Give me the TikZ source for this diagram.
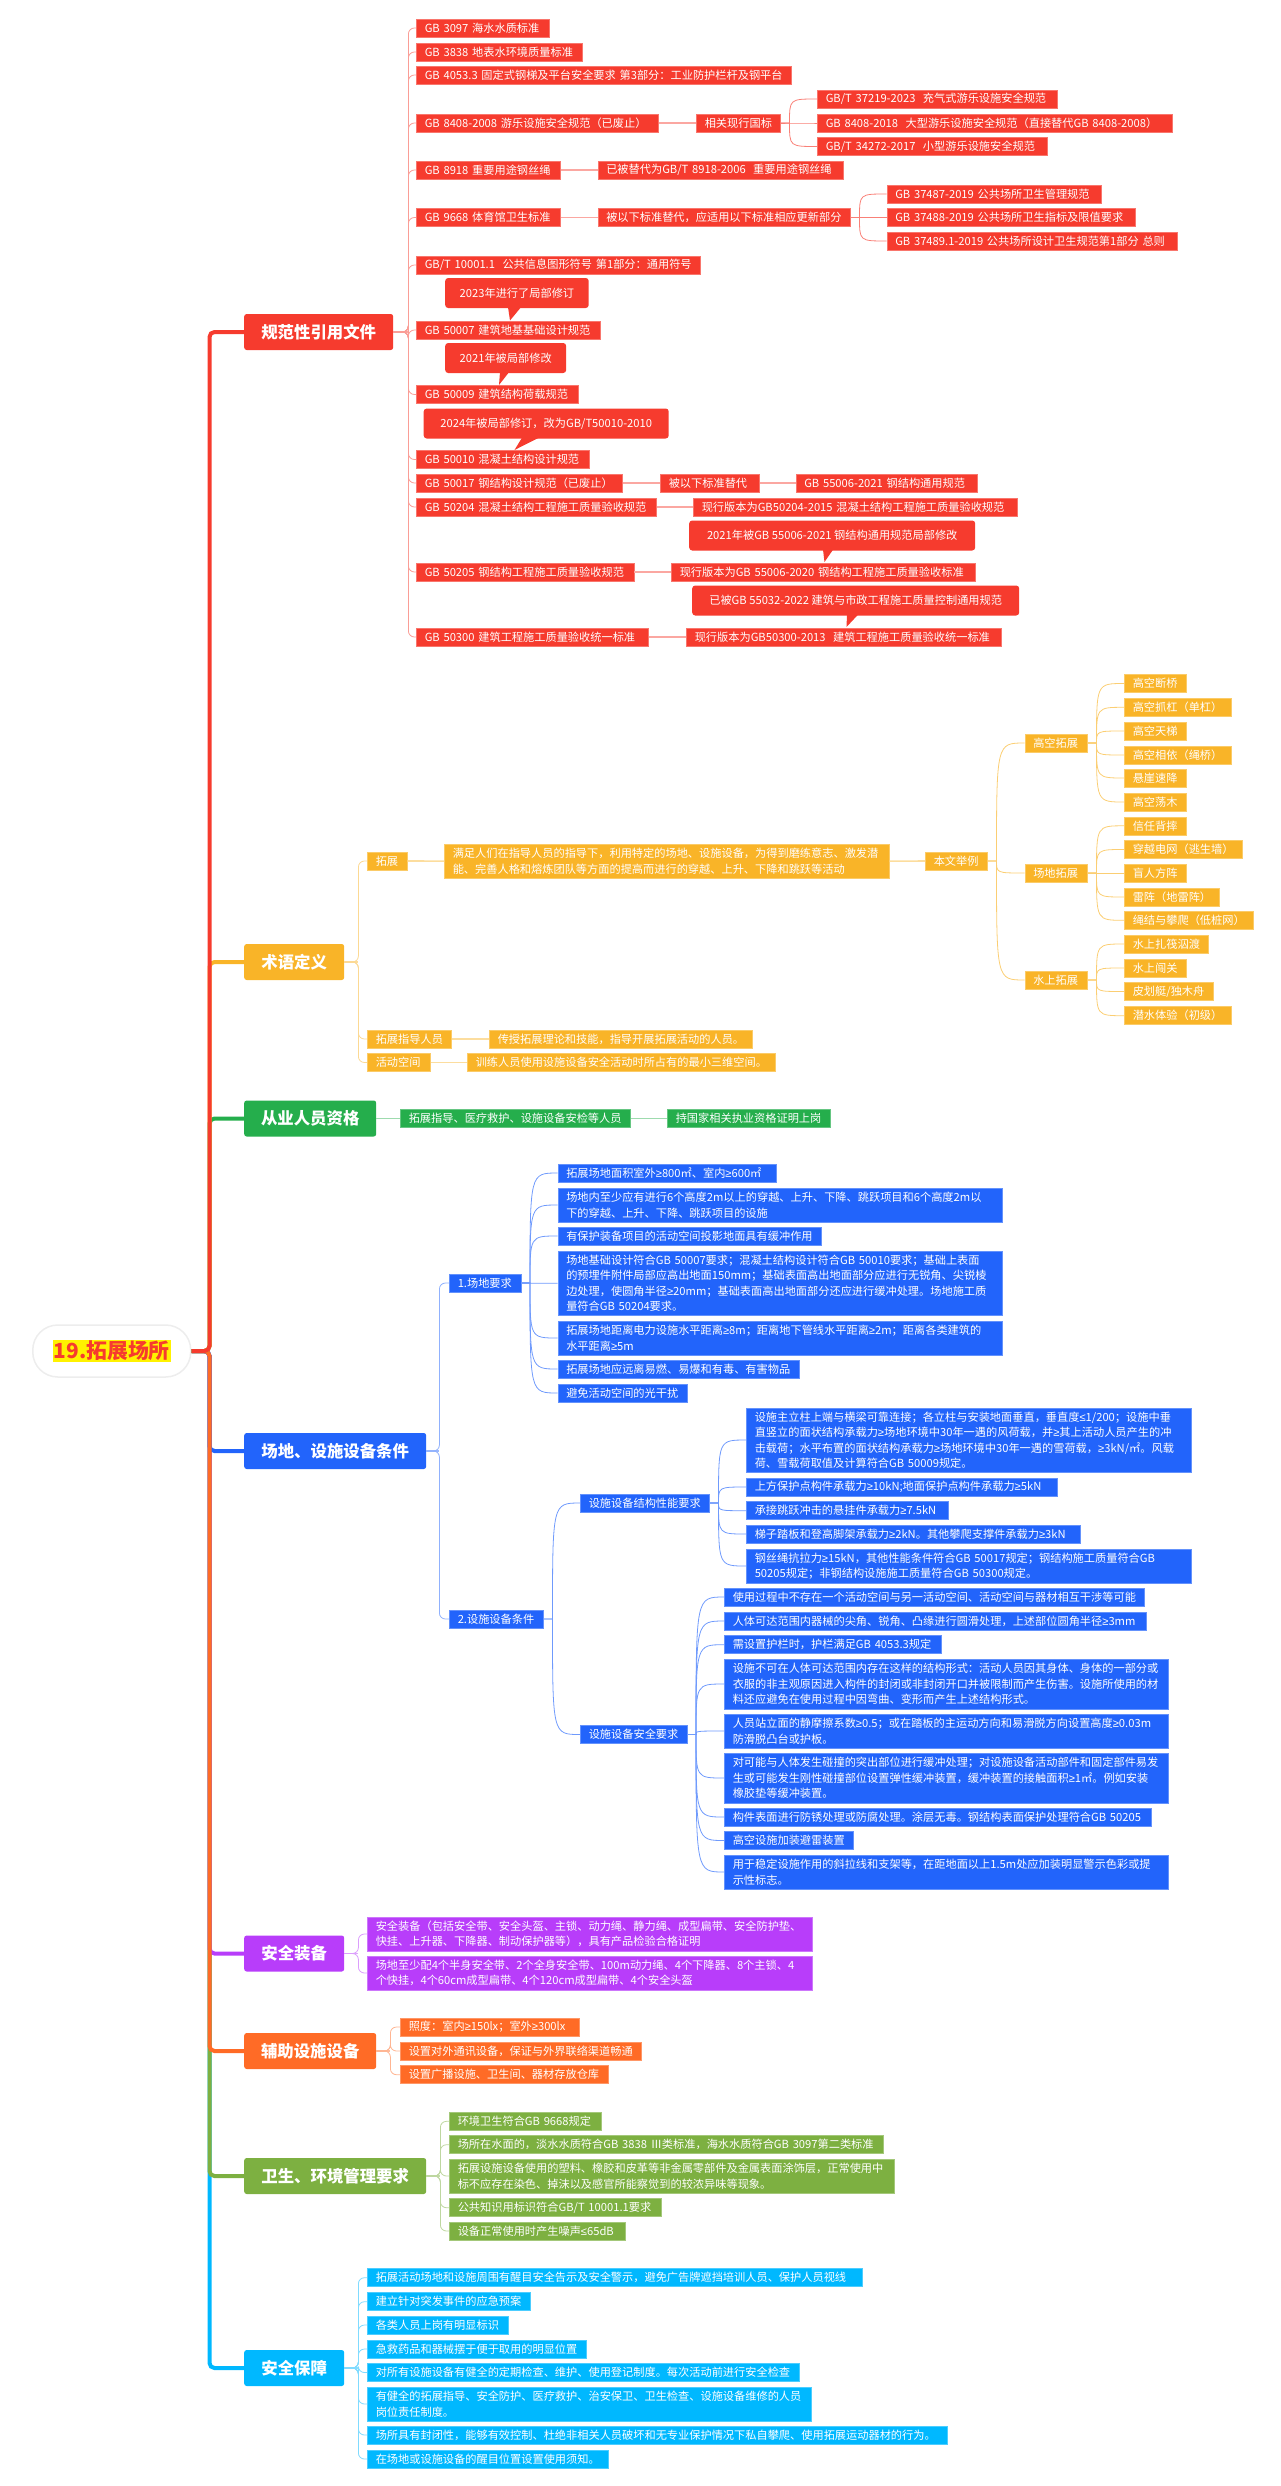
\documentclass[tikz,border=0pt]{standalone}
\usepackage{fontspec}
\usepackage{newunicodechar}
\setmainfont{Noto Sans CJK SC}
\newfontfamily\narrowfont{Liberation Sans}
\newunicodechar{≥}{{\narrowfont\char"2265 }}
\newunicodechar{≤}{{\narrowfont\char"2264 }}
\definecolor{rulered}{HTML}{F63B2E}
\definecolor{termyellow}{HTML}{F9B428}
\definecolor{staffgreen}{HTML}{25AE4C}
\definecolor{siteblue}{HTML}{2264FB}
\definecolor{gearpurple}{HTML}{B83DFA}
\definecolor{auxorange}{HTML}{FF6B26}
\definecolor{healthgreen}{HTML}{7DB041}
\definecolor{safecyan}{HTML}{00B8FF}
\newcommand{\leaffont}{\fontsize{11.2}{15.5}\selectfont}
\begin{document}
\begin{tikzpicture}[x=1pt,y=-1pt,
  leaf/.style={anchor=west, inner xsep=8.5pt, inner ysep=0pt, minimum height=18, align=left, text=white, font=\leaffont, fill=#1, draw=#1!70!white, line width=.5pt},
  lw/.style={text width=(#1-17)*1pt},
  topic/.style={anchor=west, inner sep=0pt, minimum height=36, rounded corners=2.5pt, text=white, font=\fontsize{16.4}{20}\selectfont\bfseries, fill=#1},
  note/.style={anchor=west, inner sep=0pt, minimum height=30, rounded corners=3pt, text=white, font=\leaffont, fill=rulered},
  trunk/.style={draw=#1, line width=4pt, rounded corners=5pt},
  elbow/.style={draw=#1!50!white, line width=.8pt, rounded corners=6pt},
  curve/.style={draw=#1!65!white, line width=.8pt},
  stub/.style={draw=#1!45!white, line width=1.6pt}]
\useasboundingbox (0,0) rectangle (1280,2486);

\node [anchor=west, inner sep=0pt, minimum width=158, minimum height=52, rounded corners=25pt, fill=white, draw=black!7, line width=1.5pt, text=rulered, font=\fontsize{20.8}{24}\selectfont\bfseries] (root) at (32,1351) {\setlength{\fboxsep}{1pt}\colorbox{yellow}{19.拓展场所}};

\node [topic=rulered, minimum width=149] (norm) at (244,332) {规范性引用文件};
\node [topic=termyellow, minimum width=100] (term) at (244,962) {术语定义};
\node [topic=staffgreen, minimum width=132] (staff) at (244,1118.5) {从业人员资格};
\node [topic=siteblue, minimum width=182] (site) at (244,1451) {场地、设施设备条件};
\node [topic=gearpurple, minimum width=100] (gear) at (244,1953.5) {安全装备};
\node [topic=auxorange, minimum width=132] (aux) at (244,2051) {辅助设施设备};
\node [topic=healthgreen, minimum width=182] (health) at (244,2176) {卫生、环境管理要求};
\node [topic=safecyan, minimum width=100] (safe) at (244,2368) {安全保障};

% trunk, last one on top
\foreach \topicname/\topiccolor in {safe/safecyan,health/healthgreen,gear/gearpurple,site/siteblue,aux/auxorange,staff/staffgreen,term/termyellow,norm/rulered}
  \draw [trunk=\topiccolor] (root.east) -- ++(18,0) |- (\topicname.west);

% norms
\node [leaf=rulered, lw=133] (gb3097) at (416,28) {GB 3097 海水水质标准};
\node [leaf=rulered, lw=166] (gb3838) at (416,52) {GB 3838 地表水环境质量标准};
\node [leaf=rulered, lw=375] (gb4053) at (416,75) {GB 4053.3 固定式钢梯及平台安全要求 第3部分：工业防护栏杆及钢平台};
\node [leaf=rulered, lw=242] (gb8408) at (416,123) {GB 8408-2008 游乐设施安全规范（已废止）};
\node [leaf=rulered, lw=84] (gb8408now) at (696,123) {相关现行国标};
\node [leaf=rulered, lw=240] (gb37219) at (817,99) {GB/T 37219-2023\ \ 充气式游乐设施安全规范};
\node [leaf=rulered, lw=354.5] (gb8408new) at (817,123) {GB 8408-2018\ \ 大型游乐设施安全规范（直接替代GB 8408-2008）};
\node [leaf=rulered, lw=229.5] (gb34272) at (817,146.5) {GB/T 34272-2017\ \ 小型游乐设施安全规范};
\node [leaf=rulered, lw=144] (gb8918) at (416,170) {GB 8918 重要用途钢丝绳};
\node [leaf=rulered, lw=245] (gb8918new) at (597.5,170) {已被替代为GB/T 8918-2006\ \ 重要用途钢丝绳};
\node [leaf=rulered, lw=144] (gb9668) at (416,217.5) {GB 9668 体育馆卫生标准};
\node [leaf=rulered, lw=252.5] (gb9668now) at (597.5,217.5) {被以下标准替代，应适用以下标准相应更新部分};
\node [leaf=rulered, lw=214.5] (gb37487) at (886.5,194) {GB 37487-2019 公共场所卫生管理规范};
\node [leaf=rulered, lw=248.5] (gb37488) at (886.5,217.5) {GB 37488-2019 公共场所卫生指标及限值要求};
\node [leaf=rulered, lw=290] (gb37489) at (886.5,241) {GB 37489.1-2019 公共场所设计卫生规范第1部分 总则};
\node [leaf=rulered, lw=284] (gb10001) at (416,265) {GB/T 10001.1\ \ 公共信息图形符号 第1部分：通用符号};
\node [leaf=rulered, lw=184] (gb50007) at (416,330) {GB 50007 建筑地基基础设计规范};
\node [leaf=rulered, lw=162] (gb50009) at (416,394.5) {GB 50009 建筑结构荷载规范};
\node [leaf=rulered, lw=173] (gb50010) at (416,459.5) {GB 50010 混凝土结构设计规范};
\node [leaf=rulered, lw=206] (gb50017) at (416,483) {GB 50017 钢结构设计规范（已废止）};
\node [leaf=rulered, lw=99] (gb50017now) at (660,483) {被以下标准替代};
\node [leaf=rulered, lw=181.5] (gb55006) at (795.5,483) {GB 55006-2021 钢结构通用规范};
\node [leaf=rulered, lw=240] (gb50204) at (416,507) {GB 50204 混凝土结构工程施工质量验收规范};
\node [leaf=rulered, lw=324] (gb50204new) at (693,507) {现行版本为GB50204-2015 混凝土结构工程施工质量验收规范};
\node [leaf=rulered, lw=217.5] (gb50205) at (416,572) {GB 50205 钢结构工程施工质量验收规范};
\node [leaf=rulered, lw=304] (gb50205new) at (671,572) {现行版本为GB 55006-2020 钢结构工程施工质量验收标准};
\node [leaf=rulered, lw=232] (gb50300) at (416,637) {GB 50300 建筑工程施工质量验收统一标准};
\node [leaf=rulered, lw=315] (gb50300new) at (686,637) {现行版本为GB50300-2013\ \ 建筑工程施工质量验收统一标准};

\node [note, minimum width=143.5] (note50007) at (445,293) {2023年进行了局部修订};
\node [note, minimum width=121] (note50009) at (445,358) {2021年被局部修改};
\node [note, minimum width=245] (note50010) at (423.5,423.5) {2024年被局部修订，改为GB/T50010-2010};
\node [note, minimum width=286] (note50205) at (689,535.5) {2021年被GB 55006-2021 钢结构通用规范局部修改};
\node [note, minimum width=327] (note50300) at (692,600.5) {已被GB 55032-2022 建筑与市政工程施工质量控制通用规范};
\coordinate (tip50007) at (510,320.5);
\coordinate (tip50009) at (499,385);
\coordinate (tip50010) at (514.5,450);
\coordinate (tip50205) at (824.5,562);
\coordinate (tip50300) at (846.5,627);
\foreach \notename/\baseleft/\basewidth in {50007/-2/13,50009/1/9,50010/7.5/17,50205/-1.5/10,50300/.5/11}
  \fill [rulered] (tip\notename |- note\notename.south) ++(\baseleft,-1) -- ++(\basewidth,0) -- (tip\notename) -- cycle;

\draw [stub=rulered] (norm.east) -- ++(15,0);
\foreach \childname in {gb3097,gb3838,gb4053,gb8408,gb8918,gb9668,gb10001,gb50007,gb50009,gb50010,gb50017,gb50204,gb50205,gb50300}
  \draw [elbow=rulered] (norm.east) -- ++(15,0) |- (\childname.west);
\foreach \childname in {gb37219,gb8408new,gb34272}
  \draw [curve=rulered] (gb8408now.east) -- ++(9,0) coordinate (j) .. controls (j |- \childname.west) and (j |- \childname.west) .. (\childname.west);
\foreach \childname in {gb37487,gb37488,gb37489}
  \draw [curve=rulered] (gb9668now.east) -- ++(9,0) coordinate (j) .. controls (j |- \childname.west) and (j |- \childname.west) .. (\childname.west);
\draw [stub=rulered] (gb8408) -- (gb8408now);
\draw [stub=rulered] (gb8918) -- (gb8918new);
\draw [stub=rulered] (gb9668) -- (gb9668now);
\draw [stub=rulered] (gb50017) -- (gb50017now);
\draw [stub=rulered] (gb50017now) -- (gb55006);
\draw [stub=rulered] (gb50204) -- (gb50204new);
\draw [stub=rulered] (gb50205) -- (gb50205new);
\draw [stub=rulered] (gb50300) -- (gb50300new);

% terms
\node [leaf=termyellow, lw=40] (expand) at (367,861) {拓展};
\node [leaf=termyellow, lw=445, minimum height=33.5] (expanddef) at (444,861.3) {满足人们在指导人员的指导下，利用特定的场地、设施设备，为得到磨练意志、激发潜\\能、完善人格和熔炼团队等方面的提高而进行的穿越、上升、下降和跳跃等活动};
\node [leaf=termyellow, lw=62] (example) at (925,861) {本文举例};
\node [leaf=termyellow, lw=62.5] (highair) at (1024.5,743) {高空拓展};
\node [leaf=termyellow, lw=62.5] (ground) at (1024.5,873) {场地拓展};
\node [leaf=termyellow, lw=62.5] (water) at (1024.5,980) {水上拓展};
\node [leaf=termyellow, lw=61.5] (bridge) at (1124,683.5) {高空断桥};
\node [leaf=termyellow, lw=107] (bar) at (1124,707.3) {高空抓杠（单杠）};
\node [leaf=termyellow, lw=61.5] (ladder) at (1124,731) {高空天梯};
\node [leaf=termyellow, lw=107] (ropebridge) at (1124,755) {高空相依（绳桥）};
\node [leaf=termyellow, lw=61.5] (cliff) at (1124,778) {悬崖速降};
\node [leaf=termyellow, lw=61.5] (swing) at (1124,802) {高空荡木};
\node [leaf=termyellow, lw=61.5] (trustfall) at (1124,825.8) {信任背摔};
\node [leaf=termyellow, lw=117.5] (wallnet) at (1124,849.5) {穿越电网（逃生墙）};
\node [leaf=termyellow, lw=61.5] (blind) at (1124,873) {盲人方阵};
\node [leaf=termyellow, lw=95] (mine) at (1124,897) {雷阵（地雷阵）};
\node [leaf=termyellow, lw=128.5] (knot) at (1124,920.3) {绳结与攀爬（低桩网）};
\node [leaf=termyellow, lw=84] (raft) at (1124,944) {水上扎筏泅渡};
\node [leaf=termyellow, lw=61.5] (pass) at (1124,968) {水上闯关};
\node [leaf=termyellow, lw=89] (canoe) at (1124,991.5) {皮划艇/独木舟};
\node [leaf=termyellow, lw=107] (diving) at (1124,1015.7) {潜水体验（初级）};
\node [leaf=termyellow, lw=84] (coach) at (367,1039) {拓展指导人员};
\node [leaf=termyellow, lw=263] (coachdef) at (489,1039) {传授拓展理论和技能，指导开展拓展活动的人员。};
\node [leaf=termyellow, lw=63] (space) at (367,1062.5) {活动空间};
\node [leaf=termyellow, lw=307.5] (spacedef) at (467,1062.5) {训练人员使用设施设备安全活动时所占有的最小三维空间。};

\draw [stub=termyellow] (term.east) -- ++(14,0);
\foreach \childname in {expand,coach,space}
  \draw [elbow=termyellow] (term.east) -- ++(14,0) |- (\childname.west);
\draw [stub=termyellow] (expand) -- (expanddef);
\draw [stub=termyellow] (expanddef) -- (example);
\draw [stub=termyellow] (coach) -- (coachdef);
\draw [stub=termyellow] (space) -- (spacedef);
\foreach \childname in {highair,ground,water}
  \draw [curve=termyellow] (example.east) -- ++(9,0) coordinate (j) .. controls (j |- \childname.west) and (j |- \childname.west) .. (\childname.west);
\foreach \childname in {bridge,bar,ladder,ropebridge,cliff,swing}
  \draw [curve=termyellow] (highair.east) -- ++(9,0) coordinate (j) .. controls (j |- \childname.west) and (j |- \childname.west) .. (\childname.west);
\foreach \childname in {trustfall,wallnet,blind,mine,knot}
  \draw [curve=termyellow] (ground.east) -- ++(9,0) coordinate (j) .. controls (j |- \childname.west) and (j |- \childname.west) .. (\childname.west);
\foreach \childname in {raft,pass,canoe,diving}
  \draw [curve=termyellow] (water.east) -- ++(9,0) coordinate (j) .. controls (j |- \childname.west) and (j |- \childname.west) .. (\childname.west);

% staff
\node [leaf=staffgreen, lw=230] (staffwho) at (400,1118.5) {拓展指导、医疗救护、设施设备安检等人员};
\node [leaf=staffgreen, lw=163] (staffcert) at (667,1118.5) {持国家相关执业资格证明上岗};
\draw [stub=staffgreen] (staff) -- (staffwho);
\draw [stub=staffgreen] (staffwho) -- (staffcert);

% site
\node [leaf=siteblue, lw=71.5] (sitereq) at (449,1283) {1.场地要求};
\node [leaf=siteblue, lw=94] (equipreq) at (449,1619) {2.设施设备条件};
\node [leaf=siteblue, lw=218.5] (area) at (557.5,1173) {拓展场地面积室外≥800㎡、室内≥600㎡};
\node [leaf=siteblue, lw=444.5, minimum height=33.5] (items) at (557.5,1205) {场地内至少应有进行6个高度2m以上的穿越、上升、下降、跳跃项目和6个高度2m以\\下的穿越、上升、下降、跳跃项目的设施};
\node [leaf=siteblue, lw=263.5] (buffer) at (557.5,1236) {有保护装备项目的活动空间投影地面具有缓冲作用};
\node [leaf=siteblue, lw=444.5, minimum height=64.5] (base) at (557.5,1283.3) {场地基础设计符合GB 50007要求；混凝土结构设计符合GB 50010要求；基础上表面\\的预埋件附件局部应高出地面150mm；基础表面高出地面部分应进行无锐角、尖锐棱\\边处理，使圆角半径≥20mm；基础表面高出地面部分还应进行缓冲处理。场地施工质\\量符合GB 50204要求。};
\node [leaf=siteblue, lw=444.5, minimum height=33.5] (distance) at (557.5,1338) {拓展场地距离电力设施水平距离≥8m；距离地下管线水平距离≥2m；距离各类建筑的\\水平距离≥5m};
\node [leaf=siteblue, lw=241.5] (hazard) at (557.5,1369) {拓展场地应远离易燃、易爆和有毒、有害物品};
\node [leaf=siteblue, lw=129] (light) at (557.5,1393) {避免活动空间的光干扰};
\node [leaf=siteblue, lw=129] (structreq) at (580,1503) {设施设备结构性能要求};
\node [leaf=siteblue, lw=106.5] (safereq) at (580,1734.5) {设施设备安全要求};
\node [leaf=siteblue, lw=444.5, minimum height=64.5] (column) at (746,1440) {设施主立柱上端与横梁可靠连接；各立柱与安装地面垂直，垂直度≤1/200；设施中垂\\直竖立的面状结构承载力≥场地环境中30年一遇的风荷载，并≥其上活动人员产生的冲\\击载荷；水平布置的面状结构承载力≥场地环境中30年一遇的雪荷载，≥3kN/㎡。风载\\荷、雪载荷取值及计算符合GB 50009规定。};
\node [leaf=siteblue, lw=310.5] (anchorload) at (746,1487) {上方保护点构件承载力≥10kN;地面保护点构件承载力≥5kN};
\node [leaf=siteblue, lw=202] (hanger) at (746,1510.7) {承接跳跃冲击的悬挂件承载力≥7.5kN};
\node [leaf=siteblue, lw=334] (tread) at (746,1534) {梯子踏板和登高脚架承载力≥2kN。其他攀爬支撑件承载力≥3kN};
\node [leaf=siteblue, lw=444.5, minimum height=33.5] (wirerope) at (746,1566) {钢丝绳抗拉力≥15kN，其他性能条件符合GB 50017规定；钢结构施工质量符合GB\\50205规定；非钢结构设施施工质量符合GB 50300规定。};
\node [leaf=siteblue, lw=419.5] (interfere) at (724,1597) {使用过程中不存在一个活动空间与另一活动空间、活动空间与器材相互干涉等可能};
\node [leaf=siteblue, lw=422] (sharp) at (724,1621) {人体可达范围内器械的尖角、锐角、凸缘进行圆滑处理，上述部位圆角半径≥3mm};
\node [leaf=siteblue, lw=217] (rail) at (724,1644.7) {需设置护栏时，护栏满足GB 4053.3规定};
\node [leaf=siteblue, lw=444, minimum height=49.5] (trap) at (724,1684) {设施不可在人体可达范围内存在这样的结构形式：活动人员因其身体、身体的一部分或\\衣服的非主观原因进入构件的封闭或非封闭开口并被限制而产生伤害。设施所使用的材\\料还应避免在使用过程中因弯曲、变形而产生上述结构形式。};
\node [leaf=siteblue, lw=444, minimum height=33.5] (friction) at (724,1731) {人员站立面的静摩擦系数≥0.5；或在踏板的主运动方向和易滑脱方向设置高度≥0.03m\\防滑脱凸台或护板。};
\node [leaf=siteblue, lw=444, minimum height=49.5] (cushion) at (724,1778) {对可能与人体发生碰撞的突出部位进行缓冲处理；对设施设备活动部件和固定部件易发\\生或可能发生刚性碰撞部位设置弹性缓冲装置，缓冲装置的接触面积≥1㎡。例如安装\\橡胶垫等缓冲装置。};
\node [leaf=siteblue, lw=426.5] (rust) at (724,1817) {构件表面进行防锈处理或防腐处理。涂层无毒。钢结构表面保护处理符合GB 50205};
\node [leaf=siteblue, lw=128.5] (lightning) at (724,1840.5) {高空设施加装避雷装置};
\node [leaf=siteblue, lw=444, minimum height=33.5] (guy) at (724,1872) {用于稳定设施作用的斜拉线和支架等，在距地面以上1.5m处应加装明显警示色彩或提\\示性标志。};

\draw [stub=siteblue] (site.east) -- ++(13,0);
\foreach \childname in {sitereq,equipreq}
  \draw [elbow=siteblue] (site.east) -- ++(13,0) |- (\childname.west);
\foreach \childname in {area,items,buffer,base,distance,hazard,light}
  \draw [curve=siteblue] (sitereq.east) -- ++(9,0) coordinate (j) .. controls (j |- \childname.west) and (j |- \childname.west) .. (\childname.west);
\foreach \childname in {structreq,safereq}
  \draw [curve=siteblue] (equipreq.east) -- ++(9,0) coordinate (j) .. controls (j |- \childname.west) and (j |- \childname.west) .. (\childname.west);
\foreach \childname in {column,anchorload,hanger,tread,wirerope}
  \draw [curve=siteblue] (structreq.east) -- ++(9,0) coordinate (j) .. controls (j |- \childname.west) and (j |- \childname.west) .. (\childname.west);
\foreach \childname in {interfere,sharp,rail,trap,friction,cushion,rust,lightning,guy}
  \draw [curve=siteblue] (safereq.east) -- ++(9,0) coordinate (j) .. controls (j |- \childname.west) and (j |- \childname.west) .. (\childname.west);

% gear
\node [leaf=gearpurple, lw=444.5, minimum height=33.5] (gearlist) at (367,1934) {安全装备（包括安全带、安全头盔、主锁、动力绳、静力绳、成型扁带、安全防护垫、\\快挂、上升器、下降器、制动保护器等），具有产品检验合格证明};
\node [leaf=gearpurple, lw=444.5, minimum height=33.5] (gearmin) at (367,1973) {场地至少配4个半身安全带、2个全身安全带、100m动力绳、4个下降器、8个主锁、4\\个快挂，4个60cm成型扁带、4个120cm成型扁带、4个安全头盔};
\draw [stub=gearpurple] (gear.east) -- ++(14,0);
\foreach \childname in {gearlist,gearmin}
  \draw [elbow=gearpurple] (gear.east) -- ++(14,0) |- (\childname.west);

% aux
\node [leaf=auxorange, lw=179] (lux) at (400,2027) {照度：室内≥150lx；室外≥300lx};
\node [leaf=auxorange, lw=240.5] (comms) at (400,2051) {设置对外通讯设备，保证与外界联络渠道畅通};
\node [leaf=auxorange, lw=207.5] (store) at (400,2074.7) {设置广播设施、卫生间、器材存放仓库};
\draw [stub=auxorange] (aux.east) -- ++(14,0);
\foreach \childname in {lux,comms,store}
  \draw [elbow=auxorange] (aux.east) -- ++(14,0) |- (\childname.west);

% health
\node [leaf=healthgreen, lw=151.5] (hygiene) at (449,2121.3) {环境卫生符合GB 9668规定};
\node [leaf=healthgreen, lw=433.5] (waterq) at (449,2144.7) {场所在水面的，淡水水质符合GB 3838 Ⅲ类标准，海水水质符合GB 3097第二类标准};
\node [leaf=healthgreen, lw=444.5, minimum height=33.5] (odor) at (449,2176) {拓展设施设备使用的塑料、橡胶和皮革等非金属零部件及金属表面涂饰层，正常使用中\\标不应存在染色、掉沫以及感官所能察觉到的较浓异味等现象。};
\node [leaf=healthgreen, lw=212] (signs) at (449,2207.7) {公共知识用标识符合GB/T 10001.1要求};
\node [leaf=healthgreen, lw=175.5] (noise) at (449,2231) {设备正常使用时产生噪声≤65dB};
\draw [stub=healthgreen] (health.east) -- ++(14,0);
\foreach \childname in {hygiene,waterq,odor,signs,noise}
  \draw [elbow=healthgreen] (health.east) -- ++(14,0) |- (\childname.west);

% safe
\node [leaf=safecyan, lw=494.5] (warning) at (367,2277.7) {拓展活动场地和设施周围有醒目安全告示及安全警示，避免广告牌遮挡培训人员、保护人员视线};
\node [leaf=safecyan, lw=163] (plan) at (367,2301.7) {建立针对突发事件的应急预案};
\node [leaf=safecyan, lw=140.5] (badge) at (367,2325) {各类人员上岗有明显标识};
\node [leaf=safecyan, lw=219] (firstaid) at (367,2349) {急救药品和器械摆于便于取用的明显位置};
\node [leaf=safecyan, lw=431.5] (inspect) at (367,2372.5) {对所有设施设备有健全的定期检查、维护、使用登记制度。每次活动前进行安全检查};
\node [leaf=safecyan, lw=444, minimum height=33.5] (duty) at (367,2404) {有健全的拓展指导、安全防护、医疗救护、治安保卫、卫生检查、设施设备维修的人员\\岗位责任制度。};
\node [leaf=safecyan, lw=580] (closed) at (367,2435) {场所具有封闭性，能够有效控制、杜绝非相关人员破坏和无专业保护情况下私自攀爬、使用拓展运动器材的行为。};
\node [leaf=safecyan, lw=241] (notice) at (367,2459) {在场地或设施设备的醒目位置设置使用须知。};
\draw [stub=safecyan] (safe.east) -- ++(14,0);
\foreach \childname in {warning,plan,badge,firstaid,inspect,duty,closed,notice}
  \draw [elbow=safecyan] (safe.east) -- ++(14,0) |- (\childname.west);
\end{tikzpicture}
\end{document}
